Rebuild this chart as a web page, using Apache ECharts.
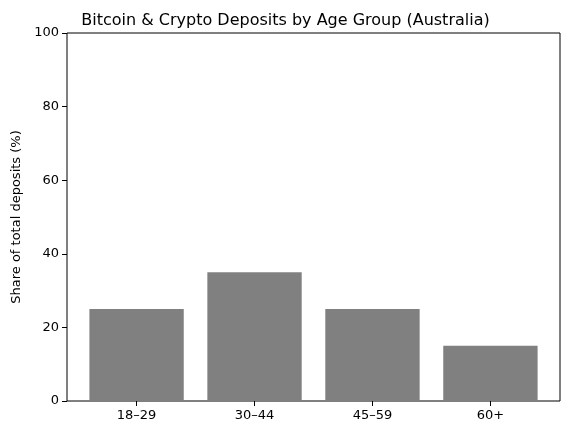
<!DOCTYPE html>
<html><head><meta charset="utf-8">
<script src="https://cdn.jsdelivr.net/npm/echarts@6/dist/echarts.min.js"></script>
<style>html,body{margin:0;padding:0;background:#fff}#c{width:571px;height:435px}</style>
</head><body><div id="c"></div>
<script>
const categories = ['18–29','30–44','45–59','60+'];
const values = [25,35,25,15];
const yTicks = [0,20,40,60,80,100];
const chart = echarts.init(document.getElementById('c'));
const font = 'DejaVu Sans';
chart.setOption({
  animation:false,
  title:{text:'Bitcoin & Crypto Deposits by Age Group (Australia)',left:'center',top:8,
    textStyle:{fontFamily:font,fontSize:16,fontWeight:'normal',color:'#000'}},
  grid:[
    {left:67,right:11,top:33,bottom:34,show:true,borderColor:'#000',borderWidth:1,backgroundColor:'transparent'},
    {left:77.6,right:21.6,top:33,bottom:34}
  ],
  xAxis:[
    {type:'value',gridIndex:0,show:false,min:0,max:1},
    {type:'category',gridIndex:1,data:categories,
      axisLine:{show:false},
      axisTick:{show:true,alignWithLabel:true,length:5,lineStyle:{color:'#000'}},
      axisLabel:{fontFamily:font,fontSize:13,color:'#000',margin:8}}
  ],
  yAxis:[
    {type:'value',gridIndex:0,min:0,max:100,interval:20,
      name:'Share of total deposits (%)',nameLocation:'middle',nameGap:42,
      nameTextStyle:{fontFamily:font,fontSize:13,color:'#000'},
      axisLine:{show:false},splitLine:{show:false},
      axisTick:{show:true,length:5,lineStyle:{color:'#000'}},
      axisLabel:{fontFamily:font,fontSize:13,color:'#000',margin:8}},
    {type:'value',gridIndex:1,min:0,max:100,show:false}
  ],
  series:[{type:'bar',xAxisIndex:1,yAxisIndex:1,data:values,barWidth:'80%',
    itemStyle:{color:'#808080'}}]
});
</script></body></html>
